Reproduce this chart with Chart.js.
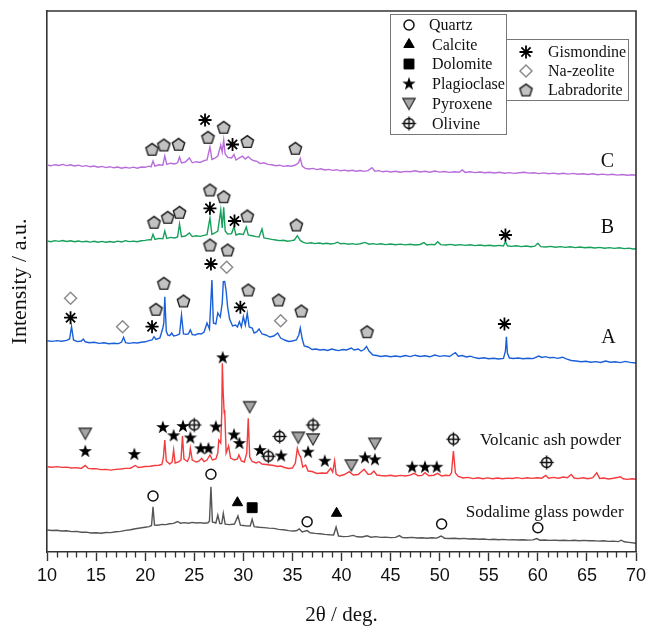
<!DOCTYPE html>
<html>
<head>
<meta charset="utf-8">
<script src="https://cdn.jsdelivr.net/npm/chart.js@4.4.1/dist/chart.umd.min.js"></script>
<style>
  html, body { margin: 0; padding: 0; background: #fff; }
</style>
</head>
<body>
<canvas id="xrdChart" width="651" height="626"></canvas>
<script>
// x axis (2 theta, degrees)
const xTicks = [10, 15, 20, 25, 30, 35, 40, 45, 50, 55, 60, 65, 70];

// XRD patterns, [2theta, intensity (a.u., stacked offset included)]
const sampleC = [[10,388],[10.4,387.2],[10.8,388.3],[11.2,387.5],[11.6,388.6],[12,387.4],[12.4,388.2],[12.8,387],[13.2,387.8],[13.6,386.6],[14,387.4],[14.4,386.2],[14.8,387],[15.2,385.8],[15.6,386.6],[16,385.4],[16.4,386.3],[16.8,385.2],[17.2,386],[17.6,384.8],[18,385.7],[18.4,384.9],[18.8,385.9],[19.2,384.8],[19.6,386],[20,385.7],[20.4,386.8],[20.6,386.2],[20.8,392],[21,386.8],[21.4,388.2],[21.8,387.8],[22,397],[22.2,388.6],[22.6,389.8],[23,389],[23.3,390.2],[23.5,396],[23.7,390],[24.1,391],[24.5,395],[24.8,390.2],[25.2,391.3],[25.6,390.6],[26,392.4],[26.3,393],[26.6,406],[26.8,393.6],[27.1,394.8],[27.4,397],[27.7,408],[27.85,401],[28,413],[28.15,399],[28.4,395.6],[28.8,395],[29.05,398.5],[29.25,393],[29.6,395.2],[29.9,396.8],[30.2,394],[30.5,396.4],[30.8,393.6],[31.1,392.2],[31.4,391.6],[31.7,389.4],[32.1,390.2],[32.5,388.6],[32.9,388.2],[33.3,387.2],[33.7,387.8],[34.1,386.6],[34.5,387.2],[34.9,386.8],[35.3,388],[35.6,390],[35.8,394.5],[36,387],[36.3,384.6],[36.7,384],[37.1,384.6],[37.5,383.4],[37.9,384.2],[38.3,383],[38.7,383.6],[39.1,382.6],[39.5,383.3],[39.9,382.2],[40.3,382.9],[40.7,382],[41.1,382.8],[41.5,381.8],[41.9,382.5],[42.3,381.6],[42.7,382.4],[43.1,385.4],[43.4,381.8],[43.8,382.4],[44.2,381.2],[44.6,381.9],[45,381],[45.5,381.8],[46,380.8],[46.5,381.6],[47,381.2],[47.5,382.2],[48,381],[48.5,381.7],[49,380.8],[49.5,382],[50,380.9],[50.5,381.5],[51,380.6],[51.5,381.2],[52,380.8],[52.3,383],[52.6,380.6],[53.1,381.2],[53.6,380.4],[54.1,381],[54.6,380.2],[55.1,380.8],[55.6,380],[56.1,380.7],[56.6,379.8],[57.1,380.4],[57.6,379.6],[58.1,380.3],[58.6,380.8],[59.1,379.9],[59.6,380.3],[60.1,379.4],[60.6,380.1],[61.1,379.3],[61.6,379.9],[62.1,379],[62.6,379.7],[63.1,378.9],[63.6,379.6],[64.1,378.7],[64.6,379.3],[65.1,378.5],[65.6,379.2],[66.1,378.3],[66.6,378.9],[67.1,378.1],[67.6,378.8],[68.1,377.9],[68.6,378.5],[69.1,377.7],[69.6,378.3],[70,377.8]];

const sampleB = [[10,312],[10.4,311.3],[10.8,312.4],[11.2,311.6],[11.6,312.5],[12,311.5],[12.4,312.2],[12.8,311.2],[13.2,312],[13.6,311.1],[14,311.8],[14.4,310.9],[14.8,311.7],[15.2,310.8],[15.6,311.6],[16,310.7],[16.4,311.5],[16.8,310.8],[17.2,311.9],[17.6,311],[18,312.3],[18.4,311.4],[18.8,311.9],[19.2,311.2],[19.6,312.2],[20,312.6],[20.4,313.4],[20.6,313],[20.8,318.7],[21,313.6],[21.4,314.6],[21.8,314.2],[22,322],[22.2,314.6],[22.6,315.6],[23,315],[23.3,316],[23.5,329],[23.7,316.4],[24.1,317],[24.5,320],[24.8,316.4],[25.2,317.2],[25.6,316.6],[26,317.6],[26.3,318.4],[26.6,335],[26.8,318.6],[27.1,320],[27.4,322],[27.7,343],[27.85,325],[28,345.7],[28.15,322],[28.4,319],[28.8,319.4],[29.05,326.3],[29.25,318],[29.6,319.2],[30,318.6],[30.3,326],[30.5,318],[30.9,317.2],[31.3,316.4],[31.6,316],[31.9,324],[32.1,315],[32.5,314.4],[32.9,313.6],[33.3,313],[33.7,312.4],[34.1,312.8],[34.5,311.8],[34.9,312.4],[35.2,313],[35.5,317.3],[35.8,312.6],[36.1,310.6],[36.5,309.6],[36.9,310.2],[37.3,309.4],[37.7,310],[38.1,309.2],[38.5,309.8],[38.9,309],[39.3,309.6],[39.6,310.8],[39.9,309.2],[40.3,309.6],[40.7,308.8],[41.1,309.4],[41.5,308.6],[41.9,309.3],[42.4,310.6],[42.8,308.8],[43.2,309.4],[43.6,308.6],[44,309.2],[44.5,308.4],[45,309],[45.5,308.2],[46,308.9],[46.5,308.1],[47,308.7],[47.5,308],[48,308.5],[48.4,310.4],[48.7,308],[49.1,308.6],[49.5,308.2],[49.8,311.3],[50.1,308.4],[50.6,308],[51.1,308.6],[51.6,307.8],[52.1,308.4],[52.6,307.6],[53.1,308.2],[53.6,307.4],[54.1,308],[54.6,307.2],[55.1,307.8],[55.6,307],[56.1,307.6],[56.5,307],[56.7,311.5],[56.9,307.2],[57.3,306.6],[57.8,307.2],[58.3,306.4],[58.8,307],[59.3,306.2],[59.7,306.8],[60,309.7],[60.3,306.4],[60.8,306],[61.3,306.6],[61.8,305.8],[62.3,306.4],[62.8,305.6],[63.3,306.2],[63.8,305.4],[64.3,306],[64.8,305.2],[65.3,305.8],[65.8,305],[66.3,305.6],[66.8,304.8],[67.3,305.4],[67.8,304.6],[68.3,305.2],[68.8,304.4],[69.3,304.9],[69.7,304],[70,304.3]];

const sampleA = [[10,212.3],[10.5,211.6],[11,212.4],[11.5,211.8],[12,212.6],[12.3,214],[12.5,226.3],[12.7,213],[13.1,211.4],[13.5,212],[13.7,214],[13.9,211.2],[14.3,210.2],[14.8,210.8],[15.3,209.6],[15.8,210.2],[16.3,209.2],[16.8,209.8],[17.3,209.4],[17.6,211],[17.8,215.7],[18,210.4],[18.4,209.6],[18.8,210.4],[19.2,210],[19.6,210.8],[20,211.2],[20.4,212.4],[20.7,213],[20.9,216.3],[21.1,213.6],[21.5,215],[21.8,225],[21.9,230],[22,256.3],[22.15,222],[22.3,218],[22.5,217.4],[22.7,220],[22.9,217],[23.2,217.6],[23.5,219],[23.7,238],[23.9,219],[24.2,218.6],[24.4,219.2],[24.6,223],[24.8,218.4],[25.1,218],[25.4,219.4],[25.7,219],[26,221],[26.3,230],[26.55,224],[26.8,273],[26.95,230],[27.2,229],[27.4,240],[27.65,236],[27.85,250],[27.96,271.3],[28.1,271.5],[28.25,262],[28.4,246],[28.6,234],[28.9,227],[29.2,228],[29.4,226],[29.6,231.3],[29.8,226],[30,236.3],[30.2,228],[30.4,239.7],[30.6,226],[30.9,225],[31.1,220],[31.35,221],[31.6,224],[31.9,219],[32.3,218],[32.7,216],[33.1,217],[33.5,220],[33.8,215],[34.2,213],[34.6,211.5],[35,212],[35.4,213],[35.65,218],[35.8,225],[36,214],[36.2,207],[36.6,206],[37,203.5],[37.4,204],[37.8,203],[38.2,203.5],[38.6,202.5],[39,204],[39.4,203],[39.7,202.4],[40.1,203.5],[40.5,203],[41,205],[41.3,203],[41.7,204],[42,202],[42.3,203.5],[42.55,206.5],[42.8,202],[43.2,198],[43.6,197.5],[44,196.5],[44.5,197.2],[45,196.3],[45.5,197],[46,196.2],[46.5,197.5],[47,196.4],[47.5,197.8],[48,196.5],[48.5,197.2],[49,196.2],[49.5,198],[50,196.6],[50.5,197.4],[51,196.5],[51.3,198.5],[51.6,200.3],[51.9,196.8],[52.3,197.5],[52.7,196],[53.1,196.8],[53.5,195.6],[54,194.5],[54.5,195.2],[55,194.2],[55.5,194.8],[56,194],[56.5,194.6],[56.7,202],[56.8,216.3],[56.9,200],[57.1,195],[57.5,194.5],[58,195],[58.5,194.2],[59,194.8],[59.5,194.4],[60.1,197],[60.4,195.6],[60.8,196.4],[61.2,195.2],[61.6,195.6],[62,194.6],[62.5,195.8],[62.9,194.2],[63.4,192.5],[63.9,192],[64.4,191.2],[64.9,191.8],[65.4,190.8],[65.9,191.4],[66.4,190.5],[66.9,192],[67.4,190.8],[67.9,191.2],[68.4,190.4],[68.9,191.6],[69.4,190.6],[70,190]];

const volcanicAsh = [[10,86.3],[10.5,85.8],[11,86.4],[11.5,85.6],[12,85.9],[12.5,85],[13,85.4],[13.5,84.6],[13.9,87.5],[14.2,84.6],[14.6,84.2],[15,84.4],[15.5,83.4],[16,83.6],[16.5,82.9],[17,83.6],[17.5,84],[18,84.6],[18.5,84.8],[19,87.5],[19.3,85.5],[19.7,86],[20,86.5],[20.5,86.8],[21,87.5],[21.4,87.8],[21.7,88.5],[21.85,95],[22,113],[22.15,92],[22.5,89],[22.75,91],[22.9,103],[23.05,90],[23.4,91.2],[23.65,93],[23.8,117],[23.95,94],[24.3,91.5],[24.5,96],[24.6,104.7],[24.8,93],[25.2,91],[25.5,92],[25.75,94.7],[26,91.5],[26.3,93],[26.6,98],[26.85,93],[27.2,94],[27.4,100],[27.5,113],[27.7,110],[27.8,140],[27.86,189.7],[27.95,160],[28.05,140],[28.1,143],[28.25,100],[28.5,107],[28.7,95],[29.1,93],[29.4,94],[29.55,98],[29.8,92],[30.1,91],[30.35,100],[30.5,134.7],[30.65,96],[30.9,91.5],[31.3,90],[31.6,91.3],[31.9,89],[32.3,88.5],[32.7,88],[33.1,87.5],[33.5,86.5],[33.8,87],[34.2,85.5],[34.6,84.5],[35,85],[35.3,90],[35.5,104.7],[35.7,98],[35.85,96],[36.05,86],[36.35,88],[36.6,82],[37,81.5],[37.5,79.5],[38,80],[38.5,79.8],[38.9,84.7],[39.1,81],[39.3,92.3],[39.45,79],[39.8,77],[40.3,78.5],[40.8,81.3],[41.2,78],[41.7,78.5],[42.3,83.7],[42.7,78.8],[43,79],[43.3,82],[43.6,78],[44,77.5],[44.5,77],[45,77.8],[45.5,76.8],[46,77.6],[46.5,77],[47,77.8],[47.4,79.7],[47.8,77.2],[48.2,77.6],[48.5,80.3],[48.9,77.2],[49.4,77.8],[49.8,79.7],[50.2,77],[50.6,77.8],[51,77.4],[51.2,80],[51.4,102],[51.6,80],[51.9,76.5],[52.4,75],[52.9,75.6],[53.4,74.4],[53.9,75.2],[54.4,74.3],[54.9,75.1],[55.4,74.2],[55.9,75],[56.4,74.2],[56.9,74.9],[57.4,74.5],[57.9,75.4],[58.4,74.4],[58.9,75.3],[59.4,74.6],[59.9,75.2],[60.4,74.8],[60.8,77.5],[61.1,74.8],[61.6,75.6],[62.1,74.8],[62.6,76],[63,75.2],[63.4,78.5],[63.7,75],[64.1,74.4],[64.6,75.2],[65.1,74.2],[65.6,75.4],[66,80.3],[66.3,74.6],[66.7,75],[67.2,74],[67.7,74.8],[68.2,75.8],[68.4,76.3],[68.7,74.2],[69.1,73.6],[69.6,74.2],[70,73.7]];

const sodalimeGlass = [[10,23],[10.5,22.5],[11,22.8],[11.5,22],[12,22.3],[12.5,21.4],[13,21.6],[13.5,20.7],[14,20.9],[14.5,20],[15,20.2],[15.5,19.7],[16,20.5],[16.5,20.4],[17,21.3],[17.5,21.6],[18,22.6],[18.5,23.2],[19,24.3],[19.5,25],[20,25.8],[20.4,26.4],[20.65,27.5],[20.8,46.3],[20.95,28],[21.3,27.8],[21.7,28.6],[22.1,28.4],[22.5,29.3],[22.9,29.6],[23.3,31.5],[23.6,29.8],[24,30.4],[24.4,29.8],[24.8,30.6],[25.2,30],[25.6,30.4],[26,29.8],[26.4,30.2],[26.55,32],[26.7,66.3],[26.85,31],[27.2,30],[27.4,38],[27.6,29.5],[27.8,29.4],[27.96,39.7],[28.15,28.8],[28.6,28.4],[29.1,29],[29.45,37],[29.7,27.8],[30.2,27.2],[30.7,27],[30.9,33.7],[31.1,26.4],[31.6,25.8],[32.1,25.4],[32.6,24.9],[33.1,24.6],[33.6,23.6],[34.1,23.2],[34.6,22.4],[35.1,22],[35.4,22.2],[35.7,24],[36,21],[36.5,22.4],[36.8,20.2],[37.3,19.6],[37.8,19.2],[38.3,18.6],[38.8,18.2],[39.2,18],[39.45,26],[39.7,17],[40.2,16.4],[40.7,16.6],[41.2,17.6],[41.6,16.2],[42.1,16],[42.6,17.2],[43,15.8],[43.5,16.4],[44,15.6],[44.5,15.9],[45,15.4],[45.5,15.6],[45.9,17.4],[46.2,15.4],[46.7,15.2],[47.2,15.6],[47.7,15],[48.2,15.3],[48.7,14.8],[49.2,15.2],[49.7,14.9],[50.15,17],[50.5,14.8],[51,14.5],[51.5,14.8],[52,14.2],[52.5,14.6],[53,14],[53.5,14.3],[54,13.7],[54.5,14],[55,13.4],[55.5,13.8],[56,13.3],[56.5,13.6],[57,13.1],[57.5,13.4],[58,13],[58.5,13.3],[59,12.9],[59.5,13.1],[59.9,14.4],[60.2,12.8],[60.7,13],[61.2,12.6],[61.7,12.9],[62.2,12.5],[62.7,12.8],[63.2,12.4],[63.7,12.7],[64.2,12.3],[64.7,12.6],[65.2,12.2],[65.7,12.4],[66.2,11.9],[66.7,12.2],[67.2,11.6],[67.7,11.9],[68.2,11.4],[68.5,12.8],[68.8,11.2],[69.3,10.6],[70,9.8]];

// phase identification marks, [2theta, height]
const quartzPeaks = [[20.8,57],[26.7,78.7],[36.5,31.3],[50.2,29],[60.0,25.3]];
const calcitePeaks = [[29.4,50.3],[39.5,39.7]];
const dolomitePeaks = [[30.9,45.3]];
const plagioclasePeaks = [[27.9,195.7],[13.9,102],[18.9,99],[21.8,126],[22.9,117.7],[23.85,127],[24.6,115.5],[25.65,104.7],[26.45,104.7],[27.2,126.5],[29.05,118.5],[29.6,110],[31.7,103],[33.85,97.5],[36.6,101.3],[38.3,92.3],[42.4,95.7],[43.4,93.7],[47.2,86.3],[48.5,86.3],[49.7,86.3]];
const pyroxenePeaks = [[30.65,146.3],[13.9,119.7],[35.6,115.7],[37.1,114],[41.0,88],[43.4,109.7]];
const olivinePeaks = [[25.0,128],[32.55,96.8],[33.7,116.5],[37.1,128],[51.4,113.8],[60.9,90.5]];
const gismondinePeaks = [[26.1,433],[28.9,408.5],[26.6,344.7],[29.1,332],[56.7,318],[26.7,289],[12.4,235.3],[20.7,226.3],[29.7,245.7],[56.6,229]];
const naZeolitePeaks = [[28.3,285.7],[12.4,254.7],[17.7,226.3],[33.8,232.3]];
const labradoritePeaks = [[20.7,403.7],[21.9,408],[23.4,408.7],[26.4,415.7],[28.0,425.7],[30.4,411.5],[35.3,404.7],
  [20.9,330.7],[22.3,335.7],[23.5,340.7],[26.6,363],[28.0,356.3],[30.4,337],[35.4,328],
  [26.6,308],[28.4,303],[21.1,243.7],[21.9,269.7],[23.9,252],[30.5,263],[33.6,253],[35.9,242],[42.6,221.3]];

// ---- marker glyphs that Chart.js has no built-in style for ----
function glyph(size, draw) {
  const c = document.createElement('canvas');
  c.width = size; c.height = size;
  draw(c.getContext('2d'), size / 2);
  return c;
}
const starGlyph = glyph(16, (g, c) => {
  g.beginPath();
  for (let i = 0; i < 10; i++) {
    const r = i % 2 ? 2.8 : 7;
    const a = -Math.PI / 2 + i * Math.PI / 5;
    g.lineTo(c + r * Math.cos(a), c + 0.5 + r * Math.sin(a));
  }
  g.closePath();
  g.fillStyle = '#000';
  g.fill();
});
const pentagonGlyph = glyph(17, (g, c) => {
  g.beginPath();
  for (let i = 0; i < 5; i++) {
    const a = -Math.PI / 2 + i * 2 * Math.PI / 5;
    g.lineTo(c + 6.5 * Math.cos(a), c + 0.6 + 6.5 * Math.sin(a));
  }
  g.closePath();
  g.fillStyle = '#c2c2c2';
  g.fill();
  g.lineWidth = 1.4;
  g.strokeStyle = '#1a1a1a';
  g.stroke();
});
const olivineGlyph = glyph(17, (g, c) => {
  g.lineWidth = 1.5;
  g.strokeStyle = '#111';
  g.beginPath();
  g.arc(c, c, 5, 0, Math.PI * 2);
  g.moveTo(c - 7, c); g.lineTo(c + 7, c);
  g.moveTo(c, c - 7); g.lineTo(c, c + 7);
  g.stroke();
});
const downTriGlyph = glyph(16, (g, c) => {
  g.beginPath();
  g.moveTo(c - 6.2, c - 5);
  g.lineTo(c + 6.2, c - 5);
  g.lineTo(c, c + 6);
  g.closePath();
  g.fillStyle = '#a6a6a6';
  g.fill();
  g.lineWidth = 1.3;
  g.strokeStyle = '#333';
  g.stroke();
});

const markerStyle = {
  'Quartz':      { pointStyle: 'circle',   radius: 5,   fill: '#fff', stroke: '#111', borderWidth: 1.5 },
  'Calcite':     { pointStyle: 'triangle', radius: 6,   fill: '#000', stroke: '#000', borderWidth: 1 },
  'Dolomite':    { pointStyle: 'rect',     radius: 7,   fill: '#000', stroke: '#000', borderWidth: 1 },
  'Plagioclase': { pointStyle: starGlyph,  radius: 7,   fill: '#000', stroke: '#000', borderWidth: 0 },
  'Pyroxene':    { pointStyle: downTriGlyph, radius: 7, fill: '#aaa', stroke: '#333', borderWidth: 0 },
  'Olivine':     { pointStyle: olivineGlyph, radius: 7, fill: '#fff', stroke: '#111', borderWidth: 0 },
  'Gismondine':  { pointStyle: 'star',     radius: 6.5, fill: '#000', stroke: '#000', borderWidth: 1.8 },
  'Na-zeolite':  { pointStyle: 'rectRot',  radius: 6,   fill: '#fff', stroke: '#8c8c8c', borderWidth: 1.5 },
  'Labradorite': { pointStyle: pentagonGlyph, radius: 7, fill: '#c2c2c2', stroke: '#111', borderWidth: 0 }
};

const toXY = pairs => pairs.map(p => ({ x: p[0], y: p[1] }));

function lineSet(pairs, color) {
  return {
    data: toXY(pairs),
    showLine: true,
    borderColor: color,
    borderWidth: 1.4,
    pointRadius: 0,
    fill: false,
    order: 2
  };
}
function markerSet(name, pairs) {
  const s = markerStyle[name];
  return {
    label: name,
    data: toXY(pairs),
    showLine: false,
    pointStyle: s.pointStyle,
    pointRadius: s.radius,
    pointHoverRadius: s.radius,
    pointBackgroundColor: s.fill,
    pointBorderColor: s.stroke,
    pointBorderWidth: s.borderWidth,
    order: 1
  };
}

const sampleLabels = [
  { text: 'C', x: 67.1, y: 391, size: 20 },
  { text: 'B', x: 67.1, y: 325, size: 20 },
  { text: 'A', x: 67.2, y: 215, size: 20 },
  { text: 'Volcanic ash powder', x: 61.3, y: 112.5, size: 17 },
  { text: 'Sodalime glass powder', x: 60.7, y: 40.5, size: 17 }
];

const legendLeft = ['Quartz', 'Calcite', 'Dolomite', 'Plagioclase', 'Pyroxene', 'Olivine'];
const legendRight = ['Gismondine', 'Na-zeolite', 'Labradorite'];

const serif = '"Liberation Serif", "DejaVu Serif", serif';

function drawMarker(ctx, s, x, y) {
  if (typeof s.pointStyle !== 'string') {
    ctx.drawImage(s.pointStyle, x - s.pointStyle.width / 2, y - s.pointStyle.height / 2);
    return;
  }
  ctx.fillStyle = s.fill;
  ctx.strokeStyle = s.stroke;
  ctx.lineWidth = s.borderWidth;
  Chart.helpers.drawPoint(ctx, { pointStyle: s.pointStyle, radius: s.radius, rotation: 0, borderWidth: s.borderWidth }, x, y);
}

const decorations = {
  id: 'decorations',
  afterDraw(chart) {
    const ctx = chart.ctx;
    const { left, right, top, bottom } = chart.chartArea;
    const xs = chart.scales.x, ys = chart.scales.y;
    ctx.save();

    // top and right frame
    ctx.strokeStyle = '#333';
    ctx.lineWidth = 1.6;
    ctx.beginPath();
    ctx.moveTo(left, top);
    ctx.lineTo(right, top);
    ctx.lineTo(right, bottom);
    ctx.stroke();

    // minor ticks every degree
    ctx.lineWidth = 1.3;
    ctx.beginPath();
    for (let d = xs.min + 1; d < xs.max; d++) {
      if (d % 5 === 0) continue;
      const px = Math.round(xs.getPixelForValue(d)) + 0.5;
      ctx.moveTo(px, bottom);
      ctx.lineTo(px, bottom + 5.5);
    }
    ctx.stroke();

    // sample names
    ctx.fillStyle = '#111';
    ctx.textAlign = 'center';
    ctx.textBaseline = 'middle';
    sampleLabels.forEach(l => {
      ctx.font = l.size + 'px ' + serif;
      ctx.fillText(l.text, xs.getPixelForValue(l.x), ys.getPixelForValue(l.y));
    });

    // legend boxes
    ctx.strokeStyle = '#777';
    ctx.lineWidth = 1;
    ctx.strokeRect(390.5, 14.5, 116, 120);
    ctx.strokeRect(506.5, 39.5, 122, 61);
    ctx.font = '16px ' + serif;
    ctx.textAlign = 'left';
    const drawEntry = (name, sx, tx, y) => {
      ctx.save();
      drawMarker(ctx, markerStyle[name], sx, y);
      ctx.restore();
      ctx.fillStyle = '#111';
      ctx.fillText(name, tx, y + 1);
    };
    const leftRows = [25, 44.5, 64, 83.5, 103.5, 123.5];
    legendLeft.forEach((n, i) => drawEntry(n, 409, i === 0 ? 429 : 432, leftRows[i]));
    const rightRows = [52, 71, 90];
    legendRight.forEach((n, i) => drawEntry(n, 526, 548, rightRows[i]));

    ctx.restore();
  }
};

new Chart(document.getElementById('xrdChart'), {
  type: 'scatter',
  data: {
    datasets: [
      lineSet(sampleC, '#b86ddb'),
      lineSet(sampleB, '#17a05b'),
      lineSet(sampleA, '#1a5fd8'),
      lineSet(volcanicAsh, '#f43b3e'),
      lineSet(sodalimeGlass, '#555555'),
      markerSet('Quartz', quartzPeaks),
      markerSet('Calcite', calcitePeaks),
      markerSet('Dolomite', dolomitePeaks),
      markerSet('Plagioclase', plagioclasePeaks),
      markerSet('Pyroxene', pyroxenePeaks),
      markerSet('Olivine', olivinePeaks),
      markerSet('Gismondine', gismondinePeaks),
      markerSet('Na-zeolite', naZeolitePeaks),
      markerSet('Labradorite', labradoritePeaks)
    ]
  },
  plugins: [decorations],
  options: {
    responsive: false,
    animation: false,
    devicePixelRatio: 1,
    layout: { padding: { top: 11, right: 15, left: 0, bottom: 0 } },
    plugins: {
      legend: { display: false },
      tooltip: { enabled: false }
    },
    scales: {
      x: {
        type: 'linear',
        min: xTicks[0],
        max: xTicks[xTicks.length - 1],
        afterFit: s => { s.height = 74; },
        afterBuildTicks: s => { s.ticks = xTicks.map(v => ({ value: v })); },
        border: { color: '#333', width: 1.6 },
        grid: { drawOnChartArea: false, tickLength: 9, tickColor: '#333', tickWidth: 1.4 },
        ticks: {
          color: '#111',
          padding: 4,
          maxRotation: 0,
          autoSkip: false,
          font: { family: '"Liberation Sans", Arial, sans-serif', size: 18 }
        },
        title: {
          display: true,
          text: '2θ / deg.',
          color: '#111',
          padding: { top: 0, bottom: 0 },
          font: { family: serif, size: 21, lineHeight: 1 }
        }
      },
      y: {
        min: 1,
        max: 542,
        afterFit: s => { s.width = 47; },
        border: { color: '#333', width: 1.6 },
        grid: { display: false },
        ticks: { display: false },
        title: {
          display: true,
          text: 'Intensity / a.u.',
          color: '#111',
          padding: { top: 9, bottom: 0 },
          font: { family: serif, size: 22, lineHeight: 1 }
        }
      }
    }
  }
});
</script>
</body>
</html>
